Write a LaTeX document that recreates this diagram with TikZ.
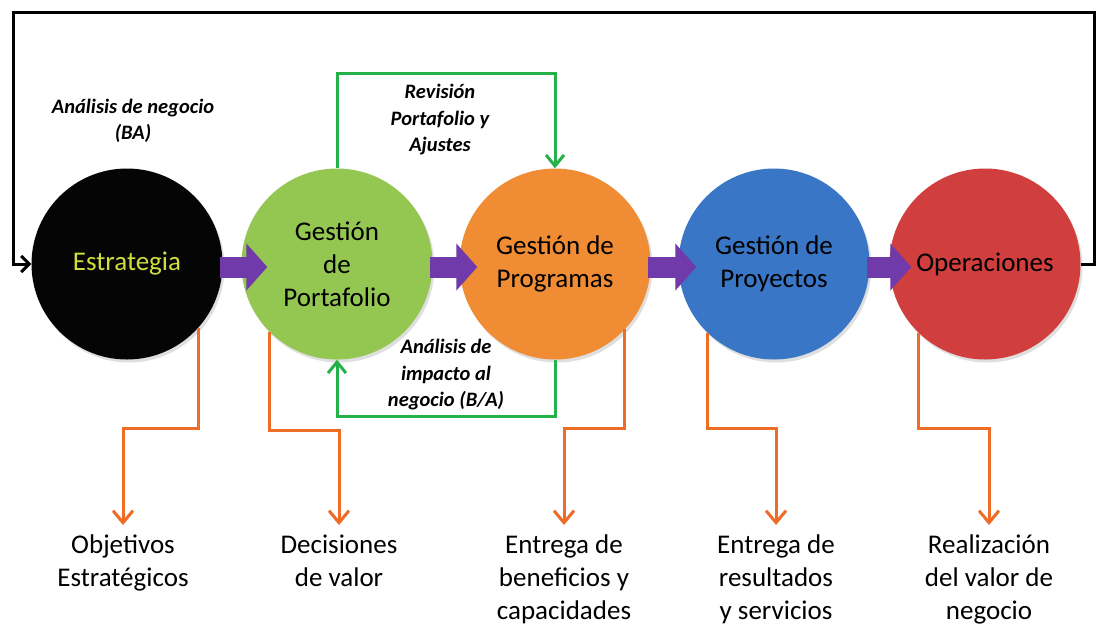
\documentclass[tikz,border=0pt]{standalone}
\usepackage{fontspec}
\setmainfont{Carlito}
\usetikzlibrary{arrows.meta,calc,shadows}
\definecolor{cBlack}{RGB}{5,5,5}
\definecolor{cYel}{RGB}{208,222,62}
\definecolor{cGreen}{RGB}{148,198,82}
\definecolor{cOrange}{RGB}{240,140,52}
\definecolor{cBlue}{RGB}{58,118,198}
\definecolor{cRed}{RGB}{208,62,62}
\definecolor{cPurple}{RGB}{112,58,170}
\definecolor{cOrLine}{RGB}{238,108,38}
\definecolor{cGrLine}{RGB}{36,178,72}
\begin{document}
\begin{tikzpicture}[x=1pt,y=-1pt,
  ball/.style={circle,minimum size=191pt,inner sep=0pt,align=center,
    font=\fontsize{27}{33}\selectfont,text=black,
    drop shadow={opacity=0.25,shadow xshift=2pt,shadow yshift=-3pt}},
  blockarrow/.style={cPurple,line width=21pt,-{Triangle[length=21pt,width=46pt]}},
  outline/.style={cOrLine,line width=3pt,-{Straight Barb[length=12pt,width=20pt]}},
  loopline/.style={cGrLine,line width=3pt,-{Straight Barb[length=11pt,width=18pt]}},
  result/.style={align=center,font=\fontsize{27}{33}\selectfont,inner sep=2pt,anchor=north},
  note/.style={align=center,font=\fontsize{20.5}{26.5}\selectfont\bfseries\itshape,inner sep=0pt}
]
\useasboundingbox (0,0) rectangle (1098,630);
\fill[white] (0,0) rectangle (1098,630);

% circles
\node[ball,fill=cBlack,text=cYel] (a) at (127,264) {Estrategia};
\node[ball,fill=cGreen] (b) at (337,264) {Gestión\\de\\Portafolio};
\node[ball,fill=cOrange] (c) at (555,264) {Gestión de\\Programas};
\node[ball,fill=cBlue] (d) at (774,264) {Gestión de\\Proyectos};
\node[ball,fill=cRed] (e) at (985,264) {Operaciones};

% purple block arrows
\draw[blockarrow] ([xshift=-3pt,yshift=-3pt]a.east) -- ([xshift=26pt,yshift=-3pt]b.west);
\draw[blockarrow] ([xshift=-3pt,yshift=-3pt]b.east) -- ([xshift=18pt,yshift=-3pt]c.west);
\draw[blockarrow] ([xshift=-3pt,yshift=-3pt]c.east) -- ([xshift=18pt,yshift=-3pt]d.west);
\draw[blockarrow] ([xshift=-3pt,yshift=-3pt]d.east) -- ([xshift=22pt,yshift=-3pt]e.west);

% black feedback loop
\coordinate (k1) at (1094,264);
\coordinate (k2) at (13,12);
\draw[black,line width=3pt,-{Straight Barb[length=8pt,width=16pt]}]
  (e.east) -- (k1) |- (k2) |- (a.west);

% green loops
\draw[loopline] (b.north) -- ++(0,-95) -| (c.north);
\draw[loopline] (c.south) -- ++(0,57) -| (b.south);

% notes
\node[note] (n1) at (133,121) {Análisis de negocio\\(BA)};
\node[note] (n2) at (440,120) {Revisión\\Portafolio y\\Ajustes};
\node[note] (n3) at (446,375) {Análisis de\\impacto al\\negocio (B/A)};

% results
\node[result] (r1) at (123,533) {Objetivos\\Estratégicos};
\node[result] (r2) at (339,533) {Decisiones\\de valor};
\node[result] (r3) at (564,533) {Entrega de\\beneficios y\\capacidades};
\node[result] (r4) at (776,533) {Entrega de\\resultados\\y servicios};
\node[result] (r5) at (989,533) {Realización\\del valor de\\negocio};

% orange connectors
\draw[outline,shorten >=8pt] (a.-42.6) |- ($(r1.north)+(0,-105)$) -- (r1.north);
\draw[outline,shorten >=8pt] (b.-135.7) |- ($(r2.north)+(0,-103)$) -- (r2.north);
\draw[outline,shorten >=8pt] (c.-43.4) |- ($(r3.north)+(0,-105)$) -- (r3.north);
\draw[outline,shorten >=8pt] (d.-134.8) |- ($(r4.north)+(0,-105)$) -- (r4.north);
\draw[outline,shorten >=8pt] (e.-134.8) |- ($(r5.north)+(0,-105)$) -- (r5.north);
\end{tikzpicture}
\end{document}
